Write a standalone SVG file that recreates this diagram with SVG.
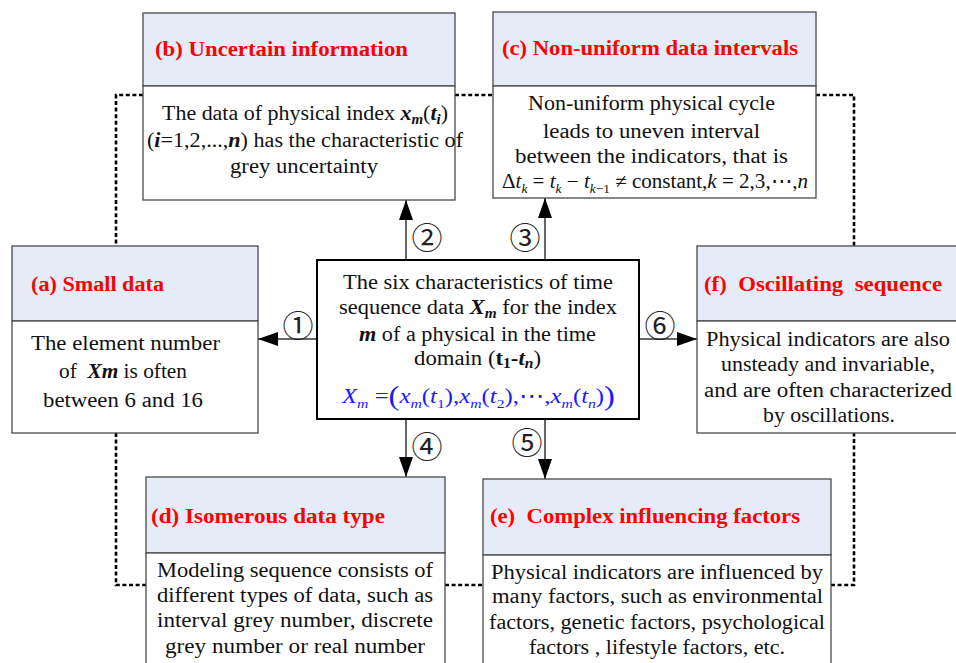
<svg xmlns="http://www.w3.org/2000/svg" width="956" height="663" viewBox="0 0 956 663">
<defs>
<style>
.hd{fill:#E6ECF7;stroke:#4a4a4a;stroke-width:1.3}
.bd{fill:#ffffff;stroke:#4a4a4a;stroke-width:1.3}
.ttl{font-family:"Liberation Serif",serif;font-size:20.5px;font-weight:bold;fill:#FF0000;white-space:pre}
.tx{font-family:"Liberation Serif",serif;font-size:20.5px;fill:#111;white-space:pre}
.bi{font-weight:bold;font-style:italic}
.it{font-style:italic}
.b{font-weight:bold}
.num{font-family:"Noto Sans CJK JP","DejaVu Sans",sans-serif;font-size:31px;fill:#222}
.arr{stroke:#333;stroke-width:1.5;fill:none}
.dash{stroke:#000;stroke-width:2.6;fill:none;stroke-dasharray:4 2.6}
.fm{font-family:"Liberation Serif",serif;font-size:20.5px;fill:#111}
.blue{fill:#1a1aff}
</style>
<marker id="ah" markerUnits="userSpaceOnUse" markerWidth="20" markerHeight="14" refX="20" refY="7" orient="auto">
<path d="M0,0 L20,7 L0,14 z" fill="#000"/>
</marker>
</defs>
<rect x="0" y="0" width="956" height="663" fill="#ffffff"/>

<g id="connectors">
<path class="dash" d="M143,95 H116 V246"/>
<path class="dash" d="M455,95 H493"/>
<path class="dash" d="M816,95 H854 V246"/>
<path class="dash" d="M116,433 V585 H146"/>
<path class="dash" d="M445,585 H483"/>
<path class="dash" d="M831,585 H854 V433"/>
<line class="arr" x1="317" y1="339" x2="258" y2="339" marker-end="url(#ah)"/>
<line class="arr" x1="639" y1="339" x2="697" y2="339" marker-end="url(#ah)"/>
<line class="arr" x1="406" y1="259" x2="406" y2="200" marker-end="url(#ah)"/>
<line class="arr" x1="545" y1="259" x2="545" y2="198" marker-end="url(#ah)"/>
<line class="arr" x1="406" y1="419" x2="406" y2="477" marker-end="url(#ah)"/>
<line class="arr" x1="545" y1="419" x2="545" y2="479" marker-end="url(#ah)"/>
<text class="num" x="298" y="337" text-anchor="middle">①</text>
<text class="num" x="427" y="249" text-anchor="middle">②</text>
<text class="num" x="525" y="249" text-anchor="middle">③</text>
<text class="num" x="427" y="458" text-anchor="middle">④</text>
<text class="num" x="527" y="454" text-anchor="middle">⑤</text>
<text class="num" x="660" y="337" text-anchor="middle">⑥</text>
</g>

<g id="node-b">
<rect class="hd" x="143" y="13" width="312" height="73"/>
<rect class="bd" x="143" y="86" width="312" height="114"/>
<text class="ttl" x="155" y="56" textLength="253" lengthAdjust="spacingAndGlyphs">(b) Uncertain information</text>
<text class="tx" x="162" y="120" textLength="286" lengthAdjust="spacingAndGlyphs">The data of physical index <tspan class="bi">x</tspan><tspan class="bi" font-size="14" dy="4">m</tspan><tspan dy="-4">(</tspan><tspan class="bi">t</tspan><tspan class="bi" font-size="14" dy="4">i</tspan><tspan dy="-4">)</tspan></text>
<text class="tx" x="147" y="147" textLength="316" lengthAdjust="spacingAndGlyphs">(<tspan class="bi">i</tspan>=1,2,...,<tspan class="bi">n</tspan>) has the characteristic of</text>
<text class="tx" x="230" y="173" textLength="148" lengthAdjust="spacingAndGlyphs">grey uncertainty</text>
</g>

<g id="node-c">
<rect class="hd" x="493" y="12" width="323" height="74"/>
<rect class="bd" x="493" y="86" width="323" height="112"/>
<text class="ttl" x="502" y="55" textLength="296" lengthAdjust="spacingAndGlyphs">(c) Non-uniform data intervals</text>
<text class="tx" x="528" y="110" textLength="247" lengthAdjust="spacingAndGlyphs">Non-uniform physical cycle</text>
<text class="tx" x="543" y="138" textLength="217" lengthAdjust="spacingAndGlyphs">leads to uneven interval</text>
<text class="tx" x="515" y="163" textLength="273" lengthAdjust="spacingAndGlyphs">between the indicators, that is</text>
<text class="fm" x="502" y="188" textLength="306" lengthAdjust="spacingAndGlyphs">Δ<tspan class="it">t</tspan><tspan class="it" font-size="13" dy="5">k</tspan><tspan dy="-5"> = </tspan><tspan class="it">t</tspan><tspan class="it" font-size="13" dy="5">k</tspan><tspan dy="-5"> − </tspan><tspan class="it">t</tspan><tspan font-size="13" dy="5"><tspan class="it">k</tspan>−1</tspan><tspan dy="-5"> ≠ constant,</tspan><tspan class="it">k</tspan> = 2,3,⋯,<tspan class="it">n</tspan></text>
</g>

<g id="node-a">
<rect class="hd" x="12" y="246" width="246" height="75"/>
<rect class="bd" x="12" y="321" width="246" height="112"/>
<text class="ttl" x="31" y="291" textLength="133" lengthAdjust="spacingAndGlyphs">(a) Small data</text>
<text class="tx" x="31" y="350" textLength="189" lengthAdjust="spacingAndGlyphs">The element number</text>
<text class="tx" x="59" y="378" textLength="128" lengthAdjust="spacingAndGlyphs">of  <tspan class="bi">Xm</tspan> is often</text>
<text class="tx" x="43" y="407" textLength="160" lengthAdjust="spacingAndGlyphs">between 6 and 16</text>
</g>

<g id="node-center">
<rect x="317" y="260" width="322" height="159" fill="#ffffff" stroke="#000" stroke-width="2"/>
<text class="tx" x="343" y="289" textLength="270" lengthAdjust="spacingAndGlyphs">The six characteristics of time</text>
<text class="tx" x="339" y="314" textLength="278" lengthAdjust="spacingAndGlyphs">sequence data <tspan class="bi">X</tspan><tspan class="bi" font-size="14" dy="4">m</tspan><tspan dy="-4"> for the index</tspan></text>
<text class="tx" x="359" y="341" textLength="237" lengthAdjust="spacingAndGlyphs"><tspan class="bi">m</tspan> of a physical in the time</text>
<text class="tx" x="414" y="365" textLength="127" lengthAdjust="spacingAndGlyphs">domain (<tspan class="b">t</tspan><tspan class="b" font-size="14" dy="3">1</tspan><tspan class="b" dy="-3">-</tspan><tspan class="bi">t</tspan><tspan class="bi" font-size="14" dy="3">n</tspan><tspan dy="-3">)</tspan></text>
<text class="fm blue" x="342" y="403" textLength="273" lengthAdjust="spacingAndGlyphs"><tspan class="it">X</tspan><tspan class="it" font-size="13" dy="5">m</tspan><tspan dy="-5"> =</tspan><tspan font-size="27" dy="2">(</tspan><tspan class="it" dy="-2">x</tspan><tspan class="it" font-size="13" dy="5">m</tspan><tspan dy="-5">(</tspan><tspan class="it">t</tspan><tspan font-size="13" dy="5">1</tspan><tspan dy="-5">),</tspan><tspan class="it">x</tspan><tspan class="it" font-size="13" dy="5">m</tspan><tspan dy="-5">(</tspan><tspan class="it">t</tspan><tspan font-size="13" dy="5">2</tspan><tspan dy="-5">),⋯,</tspan><tspan class="it">x</tspan><tspan class="it" font-size="13" dy="5">m</tspan><tspan dy="-5">(</tspan><tspan class="it">t</tspan><tspan class="it" font-size="13" dy="5">n</tspan><tspan dy="-5">)</tspan><tspan font-size="27" dy="2">)</tspan></text>
</g>

<g id="node-f">
<rect class="hd" x="697" y="246" width="265" height="75"/>
<rect class="bd" x="697" y="321" width="265" height="112"/>
<text class="ttl" x="704" y="291" textLength="238" lengthAdjust="spacingAndGlyphs">(f)  Oscillating  sequence</text>
<text class="tx" x="706" y="346" textLength="244" lengthAdjust="spacingAndGlyphs">Physical indicators are also</text>
<text class="tx" x="721" y="371" textLength="214" lengthAdjust="spacingAndGlyphs">unsteady and invariable,</text>
<text class="tx" x="704" y="397" textLength="248" lengthAdjust="spacingAndGlyphs">and are often characterized</text>
<text class="tx" x="763" y="422" textLength="132" lengthAdjust="spacingAndGlyphs">by oscillations.</text>
</g>

<g id="node-d">
<rect class="hd" x="146" y="477" width="299" height="76"/>
<rect class="bd" x="146" y="553" width="299" height="120"/>
<text class="ttl" x="151" y="523" textLength="234" lengthAdjust="spacingAndGlyphs">(d) Isomerous data type</text>
<text class="tx" x="157" y="577" textLength="276" lengthAdjust="spacingAndGlyphs">Modeling sequence consists of</text>
<text class="tx" x="157" y="602" textLength="276" lengthAdjust="spacingAndGlyphs">different types of data, such as</text>
<text class="tx" x="157" y="627" textLength="276" lengthAdjust="spacingAndGlyphs">interval grey number, discrete</text>
<text class="tx" x="165" y="653" textLength="260" lengthAdjust="spacingAndGlyphs">grey number or real number</text>
</g>

<g id="node-e">
<rect class="hd" x="483" y="479" width="348" height="76"/>
<rect class="bd" x="483" y="555" width="348" height="118"/>
<text class="ttl" x="490" y="523" textLength="310" lengthAdjust="spacingAndGlyphs">(e)  Complex influencing factors</text>
<text class="tx" x="491" y="579" textLength="332" lengthAdjust="spacingAndGlyphs">Physical indicators are influenced by</text>
<text class="tx" x="492" y="603" textLength="331" lengthAdjust="spacingAndGlyphs">many factors, such as environmental</text>
<text class="tx" x="489" y="629" textLength="336" lengthAdjust="spacingAndGlyphs">factors, genetic factors, psychological</text>
<text class="tx" x="529" y="654" textLength="256" lengthAdjust="spacingAndGlyphs">factors , lifestyle factors, etc.</text>
</g>
</svg>
